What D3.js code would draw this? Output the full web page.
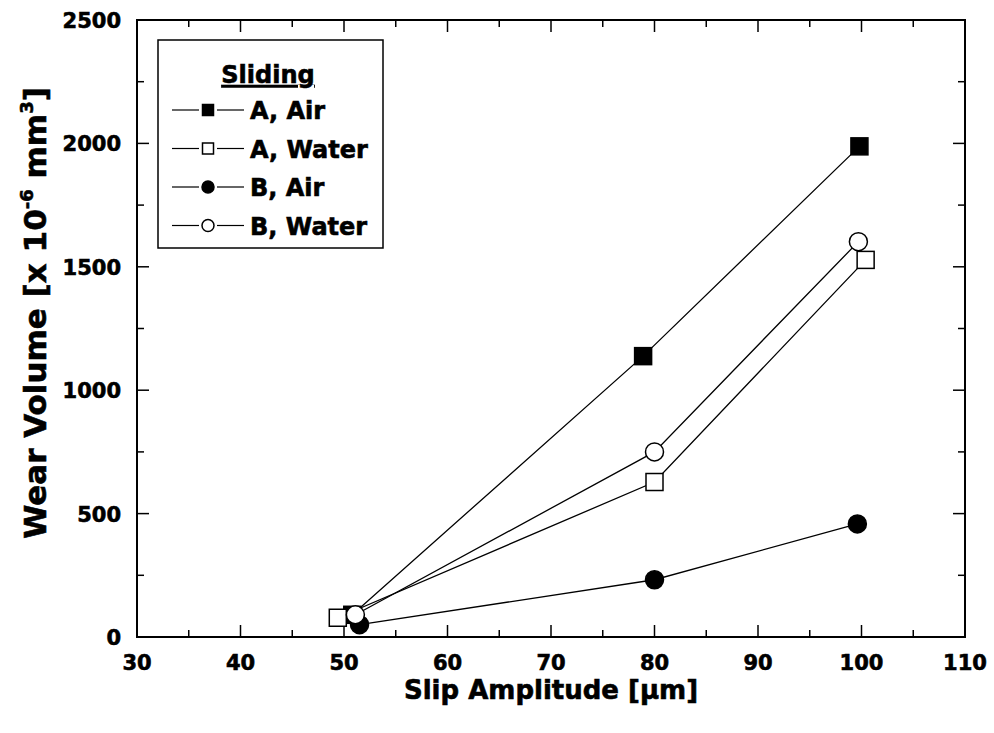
<!DOCTYPE html>
<html>
<head>
<meta charset="utf-8">
<script src="https://cdn.jsdelivr.net/npm/d3@7"></script>
<style>
  body { margin: 0; background: #fff; }
  text { fill: #000; }
</style>
</head>
<body>
<div id="chart"></div>
<script>
// Slip amplitude [um] vs wear volume [x 1e-6 mm^3]
const seriesNames = ["A, Air", "A, Water", "B, Air", "B, Water"];
const aAirX = [50.8, 78.9, 99.8];
const aAirY = [90, 1138, 1988];
const aWaterX = [49.4, 80.0, 100.4];
const aWaterY = [78, 628, 1528];
const bAirX = [51.5, 80.0, 99.6];
const bAirY = [50, 232, 458];
const bWaterX = [51.1, 80.0, 99.7];
const bWaterY = [90, 750, 1602];
const xTicks = [30, 40, 50, 60, 70, 80, 90, 100, 110];
const yTicks = [0, 500, 1000, 1500, 2000, 2500];

const W = 994, H = 733;
const m = { left: 137, right: 29, top: 20, bottom: 96 };
const FONT = "DejaVu Sans";

const svg = d3.select("#chart").append("svg")
  .attr("width", W)
  .attr("height", H);

const x = d3.scaleLinear().domain([30, 110]).range([m.left, W - m.right]);
const y = d3.scaleLinear().domain([0, 2500]).range([H - m.bottom, m.top]);

const series = [
  { name: seriesNames[0], xs: aAirX, ys: aAirY, shape: "square", fill: "#000" },
  { name: seriesNames[1], xs: aWaterX, ys: aWaterY, shape: "square", fill: "#fff" },
  { name: seriesNames[2], xs: bAirX, ys: bAirY, shape: "circle", fill: "#000" },
  { name: seriesNames[3], xs: bWaterX, ys: bWaterY, shape: "circle", fill: "#fff" }
];

// bold-ish text helper (the source font is heavier than DejaVu Bold)
function heavy(sel, size) {
  return sel.attr("font-family", FONT).attr("font-weight", "bold")
    .attr("font-size", size).attr("stroke", "#000").attr("stroke-width", 0.6);
}

// Frame
svg.append("rect")
  .attr("x", x(30)).attr("y", y(2500))
  .attr("width", x(110) - x(30)).attr("height", y(0) - y(2500))
  .attr("fill", "none").attr("stroke", "#000").attr("stroke-width", 2);

// Ticks (inward, on all four sides)
const minorX = d3.range(35, 110, 10);
const minorY = d3.range(250, 2500, 500);
const tk = svg.append("g").attr("stroke", "#000").attr("stroke-width", 1.5);
xTicks.slice(1, -1).forEach(v => {
  tk.append("line").attr("x1", x(v)).attr("x2", x(v)).attr("y1", y(0)).attr("y2", y(0) - 12);
  tk.append("line").attr("x1", x(v)).attr("x2", x(v)).attr("y1", y(2500)).attr("y2", y(2500) + 12);
});
minorX.forEach(v => {
  tk.append("line").attr("x1", x(v)).attr("x2", x(v)).attr("y1", y(0)).attr("y2", y(0) - 7);
  tk.append("line").attr("x1", x(v)).attr("x2", x(v)).attr("y1", y(2500)).attr("y2", y(2500) + 7);
});
yTicks.slice(1, -1).forEach(v => {
  tk.append("line").attr("x1", x(30)).attr("x2", x(30) + 12).attr("y1", y(v)).attr("y2", y(v));
  tk.append("line").attr("x1", x(110)).attr("x2", x(110) - 12).attr("y1", y(v)).attr("y2", y(v));
});
minorY.forEach(v => {
  tk.append("line").attr("x1", x(30)).attr("x2", x(30) + 7).attr("y1", y(v)).attr("y2", y(v));
  tk.append("line").attr("x1", x(110)).attr("x2", x(110) - 7).attr("y1", y(v)).attr("y2", y(v));
});

// Tick labels
heavy(svg.append("g").selectAll("text").data(xTicks).join("text"), 21)
  .attr("x", d => x(d)).attr("y", y(0) + 33)
  .attr("text-anchor", "middle")
  .text(d => d);

heavy(svg.append("g").selectAll("text").data(yTicks).join("text"), 21)
  .attr("x", x(30) - 16).attr("y", d => y(d) + 8)
  .attr("text-anchor", "end")
  .text(d => d);

// Axis titles
heavy(svg.append("text"), 26)
  .attr("x", 551).attr("y", 699)
  .attr("text-anchor", "middle")
  .text("Slip Amplitude [\u03bcm]");

const yt = heavy(svg.append("text"), 31)
  .attr("transform", "translate(46,313) rotate(-90)")
  .attr("text-anchor", "middle");
yt.append("tspan").text("Wear Volume [x 10");
yt.append("tspan").attr("dy", -13).attr("font-size", 18).text("-6");
yt.append("tspan").attr("dy", 13).text(" mm");
yt.append("tspan").attr("dy", -13).attr("font-size", 18).text("3");
yt.append("tspan").attr("dy", 13).text("]");

// Lines
const line = d3.line().x(d => x(d[0])).y(d => y(d[1]));
series.forEach(s => {
  svg.append("path")
    .datum(s.xs.map((v, i) => [v, s.ys[i]]))
    .attr("d", line)
    .attr("fill", "none").attr("stroke", "#000").attr("stroke-width", 1.3);
});

function marker(g, shape, fill, cx, cy, size) {
  if (shape === "square") {
    g.append("rect")
      .attr("x", cx - size / 2).attr("y", cy - size / 2)
      .attr("width", size).attr("height", size)
      .attr("fill", fill).attr("stroke", "#000").attr("stroke-width", 1.5);
  } else {
    g.append("circle")
      .attr("cx", cx).attr("cy", cy).attr("r", size / 2 + 0.5)
      .attr("fill", fill).attr("stroke", "#000").attr("stroke-width", 1.5);
  }
}

// Markers
const mk = svg.append("g");
series.forEach(s => {
  s.xs.forEach((v, i) => marker(mk, s.shape, s.fill, x(v), y(s.ys[i]), 17));
});

// Legend
const lg = svg.append("g");
lg.append("rect")
  .attr("x", 158).attr("y", 40).attr("width", 225).attr("height", 208)
  .attr("fill", "#fff").attr("stroke", "#000").attr("stroke-width", 1.5);
heavy(lg.append("text"), 24)
  .attr("x", 268).attr("y", 83).attr("text-anchor", "middle")
  .attr("text-decoration", "underline")
  .text("Sliding");
series.forEach((s, i) => {
  const ly = 110 + i * 38.5;
  lg.append("line").attr("x1", 172).attr("x2", 199).attr("y1", ly).attr("y2", ly)
    .attr("stroke", "#000").attr("stroke-width", 1.2);
  lg.append("line").attr("x1", 217).attr("x2", 244).attr("y1", ly).attr("y2", ly)
    .attr("stroke", "#000").attr("stroke-width", 1.2);
  marker(lg, s.shape, s.fill, 208, ly, 11);
  heavy(lg.append("text"), 24)
    .attr("x", 250).attr("y", ly + 9)
    .text(s.name);
});
</script>
</body>
</html>
